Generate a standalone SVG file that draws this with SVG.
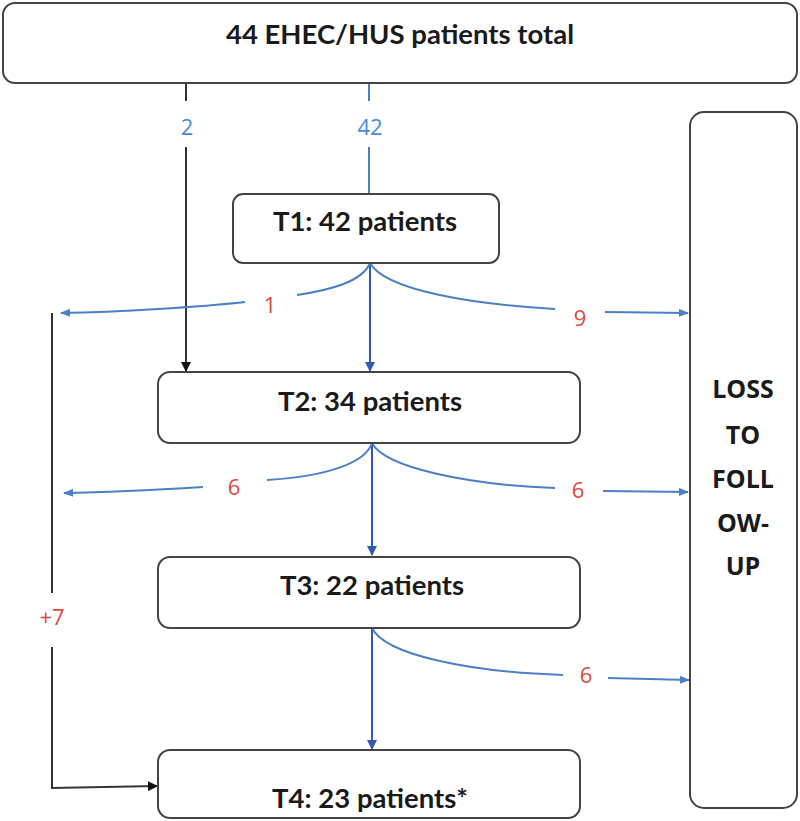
<svg xmlns="http://www.w3.org/2000/svg" width="800" height="821" viewBox="0 0 800 821">
<style>
.box{fill:#fff;stroke:#444;stroke-width:2}
.t{font-family:Lato,"Liberation Sans",sans-serif;font-weight:bold;font-size:27.5px;fill:#1a1a1a;text-anchor:middle}
.side{font-family:"Open Sans","Liberation Sans",sans-serif;font-weight:bold;font-size:25px;fill:#1a1a1a;text-anchor:middle}
.num{font-family:"Open Sans","Liberation Sans",sans-serif;font-size:22px;fill:#e0473c;text-anchor:middle}
.bnum{font-family:"Open Sans","Liberation Sans",sans-serif;font-size:22px;fill:#4a8cd6;text-anchor:middle}
.bl{fill:none;stroke:#4a80c6;stroke-width:2}
.dk{fill:none;stroke:#3459b5;stroke-width:2}
.k{fill:none;stroke:#333;stroke-width:2}
</style>
<defs>
<marker id="ab" markerWidth="10" markerHeight="8" refX="9" refY="4" orient="auto" markerUnits="userSpaceOnUse"><path d="M0,0 L10,4 L0,8 z" fill="#4a80c6"/></marker>
<marker id="ad" markerWidth="10" markerHeight="10" refX="9" refY="5" orient="auto" markerUnits="userSpaceOnUse"><path d="M0,0 L10,5 L0,10 z" fill="#3459b5"/></marker>
<marker id="ak" markerWidth="10" markerHeight="10" refX="9" refY="5" orient="auto" markerUnits="userSpaceOnUse"><path d="M0,0 L10,5 L0,10 z" fill="#111"/></marker>
</defs>
<g id="connectors">
<path class="k" d="M186,83 V101"/>
<path class="k" d="M186,147 V371" marker-end="url(#ak)"/>
<path class="bl" d="M369,83 V101"/>
<path class="bl" d="M369,147 V194"/>
<path class="dk" d="M370,263 V371" marker-end="url(#ad)"/>
<path class="bl" d="M370,263 C362,282 330,290 297,295"/>
<path class="bl" d="M245,302 C200,307 120,312 61,313" marker-end="url(#ab)"/>
<path class="bl" d="M370,263 C385,290 470,304 555,309"/>
<path class="bl" d="M605,312 L688,313" marker-end="url(#ab)"/>
<path class="dk" d="M372,443 V555" marker-end="url(#ad)"/>
<path class="bl" d="M372,443 C366,462 330,476 267,480"/>
<path class="bl" d="M203,487 C170,489 120,492 64,493" marker-end="url(#ab)"/>
<path class="bl" d="M372,443 C385,468 470,485 555,488"/>
<path class="bl" d="M603,491 L688,492" marker-end="url(#ab)"/>
<path class="dk" d="M372,628 V749" marker-end="url(#ad)"/>
<path class="bl" d="M372,628 C385,655 470,672 563,675"/>
<path class="bl" d="M608,678 L689,680" marker-end="url(#ab)"/>
<path class="k" d="M52,313 V593"/>
<path class="k" d="M52,647 V788 L157,786" marker-end="url(#ak)"/>
<text class="bnum" x="187" y="135">2</text>
<text class="bnum" x="370" y="135">42</text>
<text class="num" x="270" y="313">1</text>
<text class="num" x="580" y="326">9</text>
<text class="num" x="234" y="495">6</text>
<text class="num" x="578" y="498">6</text>
<text class="num" x="586" y="683">6</text>
<text class="num" x="52" y="625">+7</text>
</g>
<g id="total"><rect class="box" x="3" y="3" width="794" height="80" rx="12"/><text class="t" x="400" y="44">44 EHEC/HUS patients total</text></g>
<g id="t1"><rect class="box" x="233" y="194" width="266" height="69" rx="10"/><text class="t" x="365" y="231">T1: 42 patients</text></g>
<g id="t2"><rect class="box" x="158" y="372" width="422" height="71" rx="12"/><text class="t" x="370" y="411">T2: 34 patients</text></g>
<g id="t3"><rect class="box" x="158" y="557" width="422" height="71" rx="12"/><text class="t" x="372" y="595">T3: 22 patients</text></g>
<g id="t4"><rect class="box" x="158" y="750" width="422" height="68" rx="12"/><text class="t" x="370" y="808">T4: 23 patients*</text></g>
<g id="loss"><rect class="box" x="690" y="112" width="107" height="696" rx="14"/>
<text class="side" x="743" y="398">LOSS</text>
<text class="side" x="743" y="444">TO</text>
<text class="side" x="743" y="488">FOLL</text>
<text class="side" x="743" y="532">OW-</text>
<text class="side" x="743" y="575">UP</text>
</g>
</svg>
